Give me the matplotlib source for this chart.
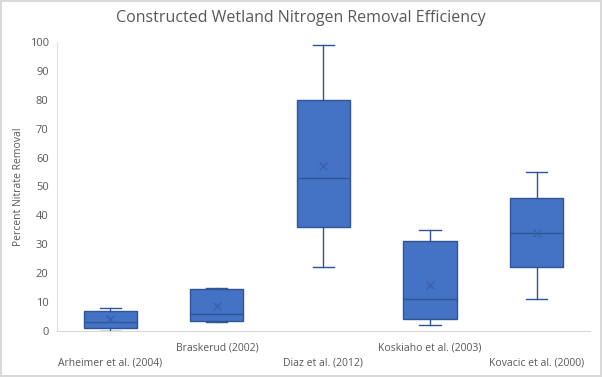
import matplotlib.pyplot as plt
import numpy as np

plt.rcParams['font.family'] = ['Open Sans', 'DejaVu Sans']

# study labels and box statistics (percent nitrate removal)
studies = ['Arheimer et al. (2004)', 'Braskerud (2002)', 'Diaz et al. (2012)',
           'Koskiaho et al. (2003)', 'Kovacic et al. (2000)']
mins = [0, 3, 22, 2, 11]
q1s = [1, 3.5, 36, 4, 22]
medians = [3, 6, 53, 11, 34]
q3s = [7, 14.5, 80, 31, 46]
maxs = [8, 15, 99, 35, 55]
means = [4, 8.5, 57, 16, 34]

fill = '#4472C4'
edge = '#2F5597'

fig = plt.figure(figsize=(6.02, 3.77), dpi=100)
fig.patch.set_edgecolor('#D9D9D9')
fig.patch.set_linewidth(1.5)
ax = fig.add_axes([0.0947, 0.122, 0.885, 0.767])

stats = []
for i in range(len(studies)):
    stats.append(dict(whislo=mins[i], q1=q1s[i], med=medians[i], q3=q3s[i],
                      whishi=maxs[i], mean=means[i], fliers=[]))

pos = np.arange(1, len(studies) + 1)
ax.bxp(stats, positions=pos, widths=0.5, patch_artist=True, showmeans=True,
       boxprops=dict(facecolor=fill, edgecolor=edge, linewidth=1),
       medianprops=dict(color=edge, linewidth=1),
       whiskerprops=dict(color=edge, linewidth=1),
       capprops=dict(color=edge, linewidth=1),
       capwidths=0.2,
       meanprops=dict(marker='x', markeredgecolor='#3B5EA8', markersize=6, markeredgewidth=0.9))

ax.set_xlim(0.5, len(studies) + 0.5)
ax.set_ylim(0, 100)
ax.set_yticks(np.arange(0, 101, 10))
ax.tick_params(axis='y', length=0, labelsize=8, labelcolor='#595959', pad=6)

# staggered category labels like the original
ax.set_xticks(pos[::2])
ax.set_xticklabels(studies[::2])
ax.set_xticks(pos[1::2], minor=True)
ax.set_xticklabels(studies[1::2], minor=True)
ax.tick_params(axis='x', which='major', length=0, labelsize=7.5, labelcolor='#595959', pad=19)
ax.tick_params(axis='x', which='minor', length=0, labelsize=7.5, labelcolor='#595959', pad=8)

for s in ['top', 'right']:
    ax.spines[s].set_visible(False)
ax.spines['left'].set_color('#E0E0E0')
ax.spines['bottom'].set_color('#D9D9D9')

ax.set_ylabel('Percent Nitrate Removal', fontsize=7.5, color='#595959', labelpad=4)
fig.text(0.5, 0.952, 'Constructed Wetland Nitrogen Removal Efficiency',
         ha='center', va='center', fontsize=11.5, color='#595959')

fig.savefig('out.png', dpi=100)
